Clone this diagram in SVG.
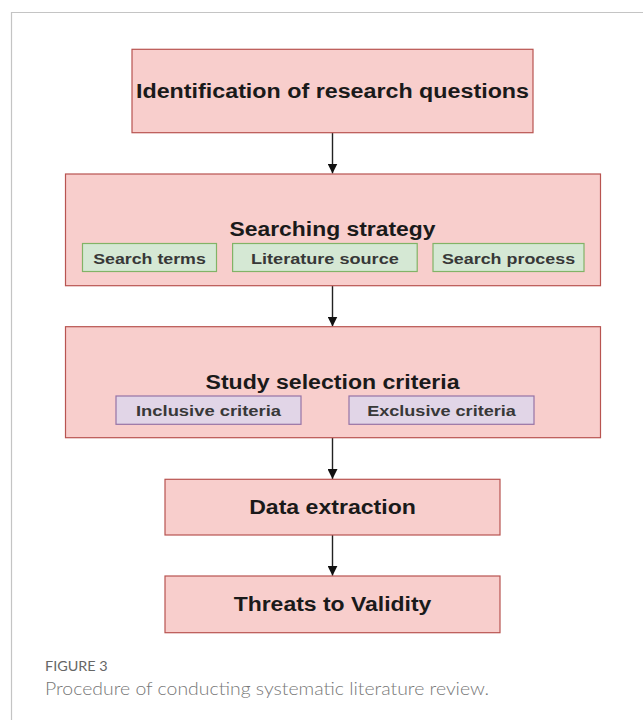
<svg xmlns="http://www.w3.org/2000/svg" width="643" height="720" viewBox="0 0 643 720">
  <style>
    .frame { fill: none; stroke: #c4c4c4; stroke-width: 1.2; }
    .pink { fill: #f8cecc; stroke: #b85450; stroke-width: 1.2; }
    .green { fill: #d5e8d4; stroke: #82b366; stroke-width: 1.2; }
    .purple { fill: #e1d5e7; stroke: #9673a6; stroke-width: 1.2; }
    .title { font-family: "Liberation Sans", Arial, sans-serif; font-weight: bold; font-size: 20px; fill: #1a1a1a; text-anchor: middle; }
    .sub { font-family: "Liberation Sans", Arial, sans-serif; font-weight: bold; font-size: 15.5px; fill: #383838; text-anchor: middle; }
    .edge { fill: none; stroke: #222222; stroke-width: 1.4; }
    .figlabel { font-family: "Lato", "Open Sans", "Liberation Sans", sans-serif; font-size: 14px; fill: #666666; }
    .caption { font-family: "Lato", "Open Sans", "Liberation Sans", sans-serif; font-weight: 300; font-size: 18px; fill: #777777; }
  </style>
  <defs>
    <marker id="arrow" viewBox="0 0 10 10" refX="10" refY="5" markerWidth="10" markerHeight="10" markerUnits="userSpaceOnUse" orient="auto">
      <path d="M0,0 L10,5 L0,10 Z" fill="#111111"/>
    </marker>
  </defs>

  <rect width="643" height="720" fill="#ffffff"/>
  <path class="frame" d="M11.5,720 L11.5,12.5 L643,12.5"/>

  <g id="connectors">
    <line class="edge" x1="332.5" y1="132.7" x2="332.5" y2="173.5" marker-end="url(#arrow)"/>
    <line class="edge" x1="332.5" y1="285.7" x2="332.5" y2="326.5" marker-end="url(#arrow)"/>
    <line class="edge" x1="332.5" y1="437.7" x2="332.5" y2="479" marker-end="url(#arrow)"/>
    <line class="edge" x1="332.5" y1="535" x2="332.5" y2="575.8" marker-end="url(#arrow)"/>
  </g>

  <g id="node-identification">
    <rect class="pink" x="132" y="49.3" width="401" height="83.4"/>
    <text class="title" x="332.5" y="97.7" textLength="393" lengthAdjust="spacingAndGlyphs">Identification of research questions</text>
  </g>

  <g id="node-searching">
    <rect class="pink" x="65.5" y="174" width="535" height="111.7"/>
    <text class="title" x="332.5" y="235.7" textLength="206" lengthAdjust="spacingAndGlyphs">Searching strategy</text>
  </g>
  <g id="node-search-terms">
    <rect class="green" x="82.5" y="243.5" width="134" height="28"/>
    <text class="sub" x="149.5" y="263.8" textLength="112.6" lengthAdjust="spacingAndGlyphs">Search terms</text>
  </g>
  <g id="node-literature-source">
    <rect class="green" x="232.6" y="243.5" width="184.6" height="28"/>
    <text class="sub" x="324.9" y="263.8" textLength="147.8" lengthAdjust="spacingAndGlyphs">Literature source</text>
  </g>
  <g id="node-search-process">
    <rect class="green" x="433" y="243.5" width="151" height="28"/>
    <text class="sub" x="508.5" y="263.8" textLength="133.2" lengthAdjust="spacingAndGlyphs">Search process</text>
  </g>

  <g id="node-study-selection">
    <rect class="pink" x="65.5" y="326.7" width="535" height="111"/>
    <text class="title" x="332.5" y="388.5" textLength="254" lengthAdjust="spacingAndGlyphs">Study selection criteria</text>
  </g>
  <g id="node-inclusive">
    <rect class="purple" x="116" y="396" width="185" height="28.3"/>
    <text class="sub" x="208.5" y="415.8" textLength="145" lengthAdjust="spacingAndGlyphs">Inclusive criteria</text>
  </g>
  <g id="node-exclusive">
    <rect class="purple" x="349" y="396" width="185" height="28.3"/>
    <text class="sub" x="441.5" y="415.8" textLength="148.7" lengthAdjust="spacingAndGlyphs">Exclusive criteria</text>
  </g>

  <g id="node-data-extraction">
    <rect class="pink" x="165" y="479.3" width="335" height="55.7"/>
    <text class="title" x="332.5" y="513.9" textLength="166.7" lengthAdjust="spacingAndGlyphs">Data extraction</text>
  </g>

  <g id="node-threats">
    <rect class="pink" x="165" y="576" width="335" height="56.7"/>
    <text class="title" x="332.5" y="611.3" textLength="197.7" lengthAdjust="spacingAndGlyphs">Threats to Validity</text>
  </g>

  <text class="figlabel" x="45" y="671" textLength="62.7" lengthAdjust="spacingAndGlyphs">FIGURE 3</text>
  <text class="caption" x="45" y="695" textLength="444" lengthAdjust="spacingAndGlyphs">Procedure of conducting systematic literature review.</text>
</svg>
